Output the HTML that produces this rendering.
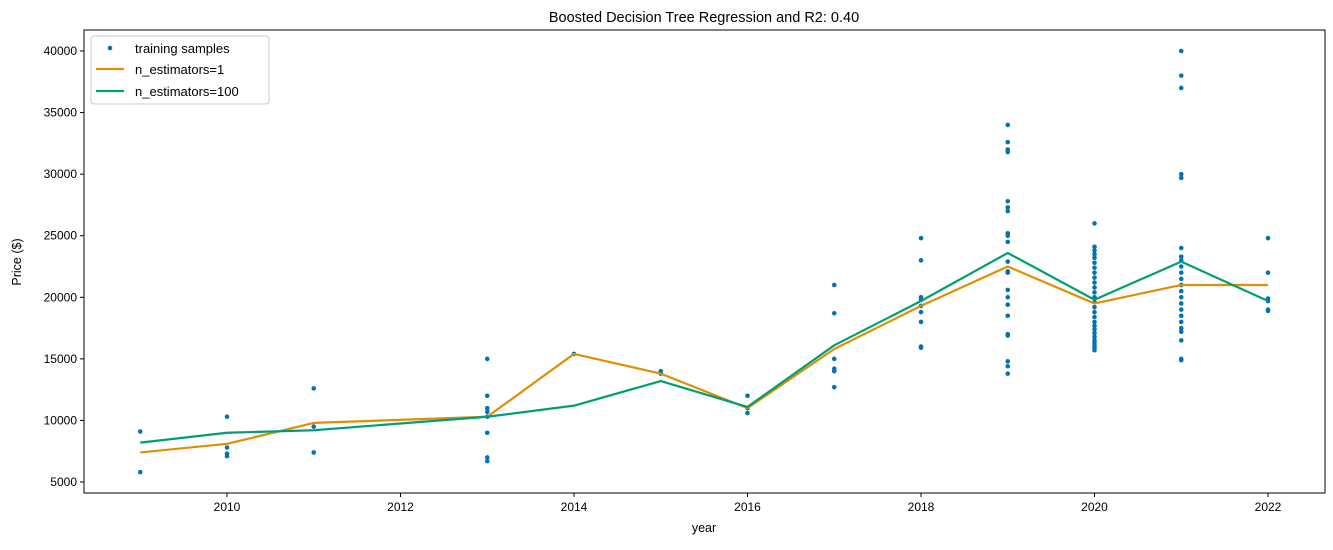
<!DOCTYPE html>
<html><head><meta charset="utf-8"><style>
body{margin:0;background:#fff;font-family:"Liberation Sans","DejaVu Sans",sans-serif;}
</style></head><body>
<svg id="chart" width="1333" height="545" xmlns="http://www.w3.org/2000/svg" font-family="Liberation Sans, DejaVu Sans, sans-serif"></svg>
<script>
const scatterYears=[2009,2009,2010,2010,2010,2010,2011,2011,2011,2013,2013,2013,2013,2013,2013,2013,2013,2014,2015,2015,2016,2016,2016,2017,2017,2017,2017,2017,2017,2018,2018,2018,2018,2018,2018,2018,2018,2018,
2019,2019,2019,2019,2019,2019,2019,2019,2019,2019,2019,2019,2019,2019,2019,2019,2019,2019,2019,2019,2019,2019,
2020,2020,2020,2020,2020,2020,2020,2020,2020,2020,2020,2020,2020,2020,2020,2020,2020,2020,2020,2020,2020,2020,2020,2020,2020,2020,2020,
2021,2021,2021,2021,2021,2021,2021,2021,2021,2021,2021,2021,2021,2021,2021,2021,2021,2021,2021,2021,2021,2021,2021,
2022,2022,2022,2022,2022,2022];
const scatterPrices=[9100,5800,10300,7800,7300,7100,12600,9500,7400,15000,12000,11000,10700,10300,9000,7000,6700,15400,14000,13800,12000,11000,10600,21000,18700,15000,14200,14000,12700,24800,23000,20000,19800,19300,18800,18000,16000,15900,
34000,32600,32000,31800,27800,27300,27000,25200,25000,24500,22900,22100,22000,20600,20000,19400,18500,17000,16900,14800,14400,13800,
26000,24100,23800,23500,23200,22800,22400,22000,21600,21200,20800,20400,20000,19600,19200,18800,18400,18000,17700,17400,17100,16800,16500,16300,16100,15900,15700,
40000,38000,37000,30000,29700,24000,23300,23000,22500,22000,21500,21000,20500,20000,19500,19000,18500,18000,17500,17200,16500,15000,14900,
24800,22000,19900,19700,19000,18900];
const lineYears=[2009,2010,2011,2013,2014,2015,2016,2017,2018,2019,2020,2021,2022];
const est1=[7400,8100,9800,10300,15400,13800,11000,15800,19300,22500,19500,21000,21000];
const est100=[8200,9000,9200,10300,11200,13200,11100,16100,19700,23600,19800,22900,19700];
const xTicks=[2010,2012,2014,2016,2018,2020,2022];
const yTicks=[5000,10000,15000,20000,25000,30000,35000,40000];

const L=84,R=1325,T=30,B=493;
const X=v=>227+(v-2010)*86.75;
const Y=v=>482-(v-5000)/5000*61.57;
const svg=document.getElementById('chart');
const NS='http://www.w3.org/2000/svg';
function mk(t,a,p){const e=document.createElementNS(NS,t);for(const k in a)e.setAttribute(k,a[k]);(p||svg).appendChild(e);return e;}

const pts=mk('g',{});


scatterYears.forEach((yr,i)=>{const c=mk('circle',{cx:X(yr),cy:Y(scatterPrices[i]),r:2.3,fill:'#0173b2'},pts);

});
function line(vals,col,name){const p=mk('polyline',{points:lineYears.map((y,i)=>X(y)+','+Y(vals[i])).join(' '),fill:'none',stroke:col,'stroke-width':2.2,'stroke-linejoin':'round'});

}
line(est1,'#de8f05','line-n-estimators-1');
line(est100,'#029e73','line-n-estimators-100');

const fr=mk('rect',{x:L,y:T,width:R-L,height:B-T,fill:'none',stroke:'#000','stroke-width':1});


xTicks.forEach(t=>{mk('line',{x1:X(t),x2:X(t),y1:B,y2:B+4,stroke:'#000'});
const tx=mk('text',{x:X(t),y:B+18,'text-anchor':'middle','font-size':12});tx.textContent=t;

});
yTicks.forEach(t=>{mk('line',{x1:L-4,x2:L,y1:Y(t),y2:Y(t),stroke:'#000'});
const tx=mk('text',{x:L-7,y:Y(t)+4,'text-anchor':'end','font-size':12});tx.textContent=t;

});
let t=mk('text',{x:704,y:22,'text-anchor':'middle','font-size':14.5});t.textContent='Boosted Decision Tree Regression and R2: 0.40';


t=mk('text',{x:704,y:532,'text-anchor':'middle','font-size':12.5});t.textContent='year';


t=mk('text',{x:21,y:262,'text-anchor':'middle','font-size':12.5,transform:'rotate(-90 21 262)'});t.textContent='Price ($)';



const lg=mk('g',{});


mk('rect',{x:91,y:36,width:178,height:68,rx:3,fill:'#fff',stroke:'#ccc'},lg);
mk('circle',{cx:110,cy:48,r:2.3,fill:'#0173b2'},lg);
mk('line',{x1:96,x2:124,y1:69,y2:69,stroke:'#de8f05','stroke-width':2.2},lg);
mk('line',{x1:96,x2:124,y1:91,y2:91,stroke:'#029e73','stroke-width':2.2},lg);
[['training samples',53],['n_estimators=1',74],['n_estimators=100',96]].forEach(([s,y])=>{const e=mk('text',{x:135,y:y,'font-size':13},lg);e.textContent=s;

});
</script>
</body></html>
